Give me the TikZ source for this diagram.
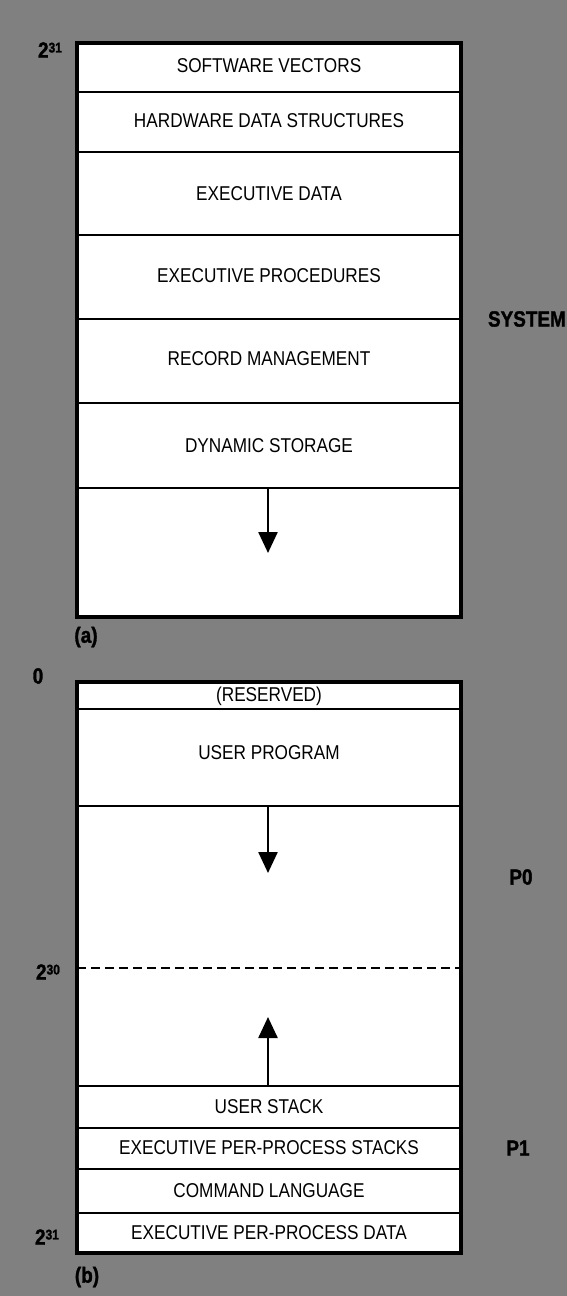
\documentclass[tikz,border=0pt]{standalone}
\usepackage{fontspec}
\setmainfont{Liberation Sans}
\newfontfamily\condf[FakeStretch=0.86]{Liberation Sans}
\newfontfamily\condb[FakeStretch=0.86,FakeBold=1.5]{Liberation Sans Bold}
\usetikzlibrary{arrows.meta}
\definecolor{bgray}{RGB}{128,128,128}
\begin{document}
\begin{tikzpicture}[x=1pt,y=-1pt,
  rowtext/.style={font=\condf\fontsize{20}{22}\selectfont, inner sep=0pt, text=black},
  sidetext/.style={font=\condb\fontsize{22}{24}\selectfont, inner sep=0pt, text=black},
  border/.style={draw=black, line width=4pt, fill=white},
  divider/.style={draw=black, line width=2.5pt},
  halfline/.style={draw=black, line width=2pt, dash pattern=on 9pt off 5pt},
  growarrow/.style={draw=black, line width=2.5pt, -{Triangle[width=19pt,length=21pt]}}
]
% background
\fill[bgray] (0,0) rectangle (567,1296);
\useasboundingbox (0,0) rectangle (567,1296);

% ---------- (a) system space ----------
\coordinate (aTL) at (77,43);
\coordinate (aBR) at (461,617);
\path[fill=white] (aTL) rectangle (aBR);
\foreach \yy in {92,152,235,319,403,488}{
  \draw[divider] (77,\yy) -- (461,\yy);
}
\draw[border, fill=none] (aTL) rectangle (aBR);

\node[rowtext] (sv)  at (269,66)  {SOFTWARE VECTORS};
\node[rowtext] (hds) at (269,121) {HARDWARE DATA STRUCTURES};
\node[rowtext] (ed)  at (269,194) {EXECUTIVE DATA};
\node[rowtext] (ep)  at (269,276) {EXECUTIVE PROCEDURES};
\node[rowtext] (rm)  at (269,359) {RECORD MANAGEMENT};
\node[rowtext] (ds)  at (269,446) {DYNAMIC STORAGE};

\coordinate (a1s) at (268,488);
\coordinate (a1e) at (268,553);
\draw[growarrow] (a1s) -- (a1e);

\node[sidetext, anchor=east] (system) at (566,319) {SYSTEM};
\node[sidetext] (la) at (86,637) {(a)};
\node[sidetext] (t31a) at (50,50) {2\raisebox{0.45ex}{\fontsize{14}{14}\selectfont 31}};

% ---------- (b) process space ----------
\coordinate (bTL) at (77,682);
\coordinate (bBR) at (461,1253);
\path[fill=white] (bTL) rectangle (bBR);
\foreach \yy in {709,806,1086,1128,1169,1213}{
  \draw[divider] (77,\yy) -- (461,\yy);
}
\coordinate (dL) at (77,968);
\coordinate (dR) at (461,968);
\draw[halfline] (dL) -- (dR);
\draw[border, fill=none] (bTL) rectangle (bBR);

\node[rowtext] (res)  at (269,696)  {(RESERVED)};
\node[rowtext] (up)   at (269,753)  {USER PROGRAM};
\node[rowtext] (us)   at (269,1107) {USER STACK};
\node[rowtext] (epps) at (269,1148) {EXECUTIVE PER-PROCESS STACKS};
\node[rowtext] (cl)   at (269,1191) {COMMAND LANGUAGE};
\node[rowtext] (eppd) at (269,1233) {EXECUTIVE PER-PROCESS DATA};

\coordinate (b1s) at (268,806);
\coordinate (b1e) at (268,873);
\draw[growarrow] (b1s) -- (b1e);
\coordinate (b2s) at (268,1086);
\coordinate (b2e) at (268,1017);
\draw[growarrow] (b2s) -- (b2e);

\node[sidetext] (zero) at (38,676) {0};
\node[sidetext] (t30) at (48,972) {2\raisebox{0.45ex}{\fontsize{14}{14}\selectfont 30}};
\node[sidetext] (t31b) at (47,1237) {2\raisebox{0.45ex}{\fontsize{14}{14}\selectfont 31}};
\node[sidetext] (lb) at (87,1277) {(b)};
\node[sidetext] (p0) at (521,877) {P0};
\node[sidetext] (p1) at (518,1148) {P1};
\end{tikzpicture}
\end{document}
